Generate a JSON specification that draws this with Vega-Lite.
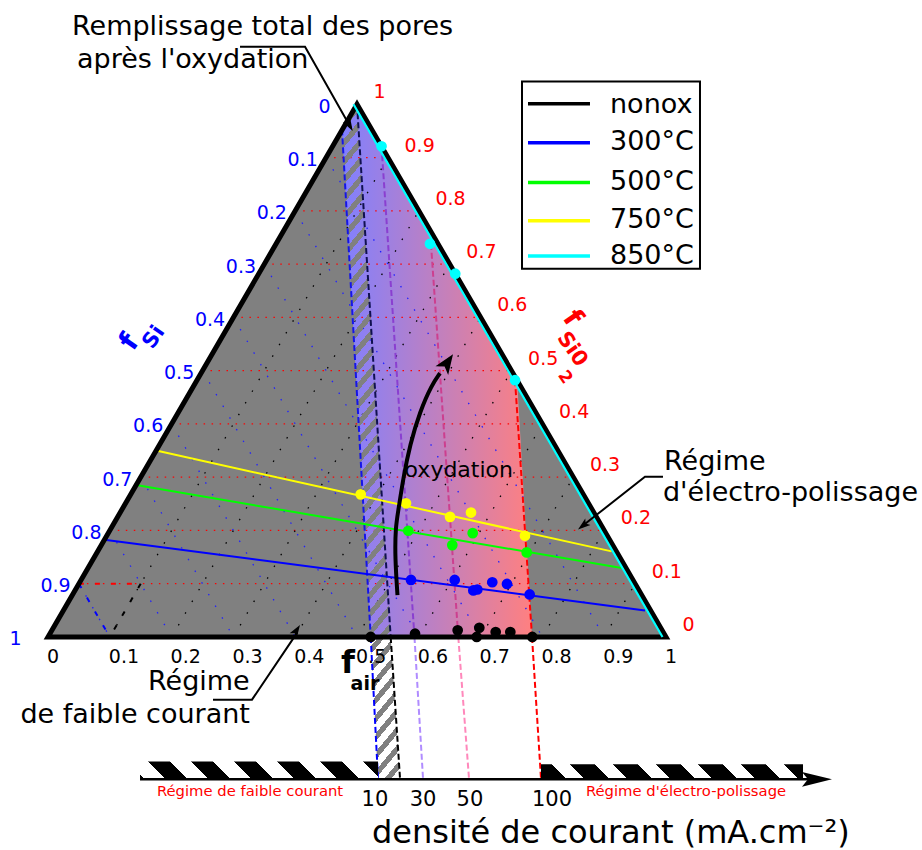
{
"$schema":"https://vega.github.io/schema/vega-lite/v6.json",
"width":922,"height":850,"padding":0,
"autosize":{"type":"fit","contains":"padding"},
"background":"white",
"config":{"view":{"stroke":null},"font":"DejaVu Sans","text":{"font":"DejaVu Sans"}},
"encoding":{
 "x":{"field":"x","type":"quantitative","scale":{"domain":[-0.07767,1.41424],"nice":false,"zero":false},"axis":null},
 "y":{"field":"y","type":"quantitative","scale":{"domain":[-0.33981,1.0356],"nice":false,"zero":false},"axis":null}
},
"resolve":{"scale":{"color":"independent"}},
"layer":[
{"data":{"values":[{"x":0,"y":0,"i":0},{"x":1,"y":0,"i":1},{"x":0.5,"y":0.866,"i":2},{"x":0,"y":0,"i":3}]},
 "mark":{"type":"line","fill":"#808080","strokeWidth":0,"strokeOpacity":0},
 "encoding":{"order":{"field":"i","type":"quantitative"}}},
{"data":{"values":[{"x":0.5,"y":0.866,"i":0},{"x":0.4757,"y":0.8252,"i":1},{"x":0.5222,"y":0,"i":2},{"x":0.7832,"y":0,"i":3},{"x":0.759,"y":0.4175,"i":4},{"x":0.5,"y":0.866,"i":5}]},
 "mark":{"type":"line","fill":{"gradient":"linear","x1":0,"y1":0,"x2":1,"y2":0,"stops":[{"offset":0,"color":"#8080ff"},{"offset":1,"color":"#ff8080"}]},"strokeWidth":0,"strokeOpacity":0},
 "encoding":{"order":{"field":"i","type":"quantitative"}}},
{"data":{"values":[
 {"x":0.05,"y":0.0866,"x2":0.95,"y2":0.0866},{"x":0.1,"y":0.1732,"x2":0.9,"y2":0.1732},{"x":0.15,"y":0.2598,"x2":0.85,"y2":0.2598},
 {"x":0.2,"y":0.3464,"x2":0.8,"y2":0.3464},{"x":0.25,"y":0.433,"x2":0.75,"y2":0.433},{"x":0.3,"y":0.5196,"x2":0.7,"y2":0.5196},
 {"x":0.35,"y":0.6062,"x2":0.65,"y2":0.6062},{"x":0.4,"y":0.6928,"x2":0.6,"y2":0.6928},{"x":0.45,"y":0.7794,"x2":0.55,"y2":0.7794}]},
 "mark":{"type":"rule","color":"#ff0000","strokeWidth":1.3,"strokeDash":[1.5,6.5]},
 "encoding":{"x2":{"field":"x2"},"y2":{"field":"y2"}}},
{"data":{"values":[
 {"x":0.45,"y":0.7794,"x2":0.9,"y2":0},{"x":0.4,"y":0.6928,"x2":0.8,"y2":0},{"x":0.35,"y":0.6062,"x2":0.7,"y2":0},
 {"x":0.3,"y":0.5196,"x2":0.6,"y2":0},{"x":0.25,"y":0.433,"x2":0.5,"y2":0},{"x":0.2,"y":0.3464,"x2":0.4,"y2":0},
 {"x":0.15,"y":0.2598,"x2":0.3,"y2":0},{"x":0.1,"y":0.1732,"x2":0.2,"y2":0},{"x":0.05,"y":0.0866,"x2":0.1,"y2":0}]},
 "mark":{"type":"rule","color":"#2020ff","strokeWidth":1.3,"strokeDash":[1.5,12]},
 "encoding":{"x2":{"field":"x2"},"y2":{"field":"y2"}}},
{"data":{"values":[
 {"x":0.1,"y":0,"x2":0.55,"y2":0.7794},{"x":0.2,"y":0,"x2":0.6,"y2":0.6928},{"x":0.3,"y":0,"x2":0.65,"y2":0.6062},
 {"x":0.4,"y":0,"x2":0.7,"y2":0.5196},{"x":0.5,"y":0,"x2":0.75,"y2":0.433},{"x":0.6,"y":0,"x2":0.8,"y2":0.3464},
 {"x":0.7,"y":0,"x2":0.85,"y2":0.2598},{"x":0.8,"y":0,"x2":0.9,"y2":0.1732},{"x":0.9,"y":0,"x2":0.95,"y2":0.0866}]},
 "mark":{"type":"rule","color":"#000000","strokeWidth":1.3,"strokeDash":[1.5,12]},
 "encoding":{"x2":{"field":"x2"},"y2":{"field":"y2"}}},
{"data":{"values":[
 {"x":0.05,"y":0.0866,"x2":0.15,"y2":0.0866,"c":"r"},{"x":0.05,"y":0.0866,"x2":0.1,"y2":0,"c":"b"},{"x":0.15,"y":0.0866,"x2":0.1,"y2":0,"c":"k"}]},
 "mark":{"type":"rule","strokeWidth":2,"strokeDash":[5,11]},
 "encoding":{"x2":{"field":"x2"},"y2":{"field":"y2"},"color":{"field":"c","type":"nominal","scale":{"domain":["r","b","k"],"range":["#ff0000","#0000ff","#000000"]},"legend":null}}},
{"data":{"values":[{"x":0.4757,"y":0.8252,"i":0},{"x":0.5,"y":0.866,"i":1},{"x":0.5545,"y":0,"i":2},{"x":0.5696,"y":-0.2298,"i":3},{"x":0.534,"y":-0.2298,"i":4},{"x":0.5222,"y":0,"i":5},{"x":0.4757,"y":0.8252,"i":6}]},
 "mark":{"type":"line","strokeWidth":0,"strokeOpacity":0,"fill":{"gradient":"linear","x1":0,"y1":0,"x2":0.1132,"y2":1.092,"stops":[
{"offset":0,"color":"#808080"},{"offset":0.011,"color":"#808080"},{"offset":0.011,"color":"rgba(128,128,128,0)"},
{"offset":0.025,"color":"rgba(128,128,128,0)"},{"offset":0.025,"color":"#808080"},{"offset":0.036,"color":"#808080"},{"offset":0.036,"color":"rgba(128,128,128,0)"},
{"offset":0.05,"color":"rgba(128,128,128,0)"},{"offset":0.05,"color":"#808080"},{"offset":0.061,"color":"#808080"},{"offset":0.061,"color":"rgba(128,128,128,0)"},
{"offset":0.075,"color":"rgba(128,128,128,0)"},{"offset":0.075,"color":"#808080"},{"offset":0.086,"color":"#808080"},{"offset":0.086,"color":"rgba(128,128,128,0)"},
{"offset":0.1,"color":"rgba(128,128,128,0)"},{"offset":0.1,"color":"#808080"},{"offset":0.111,"color":"#808080"},{"offset":0.111,"color":"rgba(128,128,128,0)"},
{"offset":0.125,"color":"rgba(128,128,128,0)"},{"offset":0.125,"color":"#808080"},{"offset":0.136,"color":"#808080"},{"offset":0.136,"color":"rgba(128,128,128,0)"},
{"offset":0.15,"color":"rgba(128,128,128,0)"},{"offset":0.15,"color":"#808080"},{"offset":0.161,"color":"#808080"},{"offset":0.161,"color":"rgba(128,128,128,0)"},
{"offset":0.175,"color":"rgba(128,128,128,0)"},{"offset":0.175,"color":"#808080"},{"offset":0.186,"color":"#808080"},{"offset":0.186,"color":"rgba(128,128,128,0)"},
{"offset":0.2,"color":"rgba(128,128,128,0)"},{"offset":0.2,"color":"#808080"},{"offset":0.211,"color":"#808080"},{"offset":0.211,"color":"rgba(128,128,128,0)"},
{"offset":0.225,"color":"rgba(128,128,128,0)"},{"offset":0.225,"color":"#808080"},{"offset":0.236,"color":"#808080"},{"offset":0.236,"color":"rgba(128,128,128,0)"},
{"offset":0.25,"color":"rgba(128,128,128,0)"},{"offset":0.25,"color":"#808080"},{"offset":0.261,"color":"#808080"},{"offset":0.261,"color":"rgba(128,128,128,0)"},
{"offset":0.275,"color":"rgba(128,128,128,0)"},{"offset":0.275,"color":"#808080"},{"offset":0.286,"color":"#808080"},{"offset":0.286,"color":"rgba(128,128,128,0)"},
{"offset":0.3,"color":"rgba(128,128,128,0)"},{"offset":0.3,"color":"#808080"},{"offset":0.311,"color":"#808080"},{"offset":0.311,"color":"rgba(128,128,128,0)"},
{"offset":0.325,"color":"rgba(128,128,128,0)"},{"offset":0.325,"color":"#808080"},{"offset":0.336,"color":"#808080"},{"offset":0.336,"color":"rgba(128,128,128,0)"},
{"offset":0.35,"color":"rgba(128,128,128,0)"},{"offset":0.35,"color":"#808080"},{"offset":0.361,"color":"#808080"},{"offset":0.361,"color":"rgba(128,128,128,0)"},
{"offset":0.375,"color":"rgba(128,128,128,0)"},{"offset":0.375,"color":"#808080"},{"offset":0.386,"color":"#808080"},{"offset":0.386,"color":"rgba(128,128,128,0)"},
{"offset":0.4,"color":"rgba(128,128,128,0)"},{"offset":0.4,"color":"#808080"},{"offset":0.411,"color":"#808080"},{"offset":0.411,"color":"rgba(128,128,128,0)"},
{"offset":0.425,"color":"rgba(128,128,128,0)"},{"offset":0.425,"color":"#808080"},{"offset":0.436,"color":"#808080"},{"offset":0.436,"color":"rgba(128,128,128,0)"},
{"offset":0.45,"color":"rgba(128,128,128,0)"},{"offset":0.45,"color":"#808080"},{"offset":0.461,"color":"#808080"},{"offset":0.461,"color":"rgba(128,128,128,0)"},
{"offset":0.475,"color":"rgba(128,128,128,0)"},{"offset":0.475,"color":"#808080"},{"offset":0.486,"color":"#808080"},{"offset":0.486,"color":"rgba(128,128,128,0)"},
{"offset":0.5,"color":"rgba(128,128,128,0)"},{"offset":0.5,"color":"#808080"},{"offset":0.511,"color":"#808080"},{"offset":0.511,"color":"rgba(128,128,128,0)"},
{"offset":0.525,"color":"rgba(128,128,128,0)"},{"offset":0.525,"color":"#808080"},{"offset":0.536,"color":"#808080"},{"offset":0.536,"color":"rgba(128,128,128,0)"},
{"offset":0.55,"color":"rgba(128,128,128,0)"},{"offset":0.55,"color":"#808080"},{"offset":0.561,"color":"#808080"},{"offset":0.561,"color":"rgba(128,128,128,0)"},
{"offset":0.575,"color":"rgba(128,128,128,0)"},{"offset":0.575,"color":"#808080"},{"offset":0.586,"color":"#808080"},{"offset":0.586,"color":"rgba(128,128,128,0)"},
{"offset":0.6,"color":"rgba(128,128,128,0)"},{"offset":0.6,"color":"#808080"},{"offset":0.611,"color":"#808080"},{"offset":0.611,"color":"rgba(128,128,128,0)"},
{"offset":0.625,"color":"rgba(128,128,128,0)"},{"offset":0.625,"color":"#808080"},{"offset":0.636,"color":"#808080"},{"offset":0.636,"color":"rgba(128,128,128,0)"},
{"offset":0.65,"color":"rgba(128,128,128,0)"},{"offset":0.65,"color":"#808080"},{"offset":0.661,"color":"#808080"},{"offset":0.661,"color":"rgba(128,128,128,0)"},
{"offset":0.675,"color":"rgba(128,128,128,0)"},{"offset":0.675,"color":"#808080"},{"offset":0.686,"color":"#808080"},{"offset":0.686,"color":"rgba(128,128,128,0)"},
{"offset":0.7,"color":"rgba(128,128,128,0)"},{"offset":0.7,"color":"#808080"},{"offset":0.711,"color":"#808080"},{"offset":0.711,"color":"rgba(128,128,128,0)"},
{"offset":0.725,"color":"rgba(128,128,128,0)"},{"offset":0.725,"color":"#808080"},{"offset":0.736,"color":"#808080"},{"offset":0.736,"color":"rgba(128,128,128,0)"},
{"offset":0.75,"color":"rgba(128,128,128,0)"},{"offset":0.75,"color":"#808080"},{"offset":0.761,"color":"#808080"},{"offset":0.761,"color":"rgba(128,128,128,0)"},
{"offset":0.775,"color":"rgba(128,128,128,0)"},{"offset":0.775,"color":"#808080"},{"offset":0.786,"color":"#808080"},{"offset":0.786,"color":"rgba(128,128,128,0)"},
{"offset":0.8,"color":"rgba(128,128,128,0)"},{"offset":0.8,"color":"#808080"},{"offset":0.811,"color":"#808080"},{"offset":0.811,"color":"rgba(128,128,128,0)"},
{"offset":0.825,"color":"rgba(128,128,128,0)"},{"offset":0.825,"color":"#808080"},{"offset":0.836,"color":"#808080"},{"offset":0.836,"color":"rgba(128,128,128,0)"},
{"offset":0.85,"color":"rgba(128,128,128,0)"},{"offset":0.85,"color":"#808080"},{"offset":0.861,"color":"#808080"},{"offset":0.861,"color":"rgba(128,128,128,0)"},
{"offset":0.875,"color":"rgba(128,128,128,0)"},{"offset":0.875,"color":"#808080"},{"offset":0.886,"color":"#808080"},{"offset":0.886,"color":"rgba(128,128,128,0)"},
{"offset":0.9,"color":"rgba(128,128,128,0)"},{"offset":0.9,"color":"#808080"},{"offset":0.911,"color":"#808080"},{"offset":0.911,"color":"rgba(128,128,128,0)"},
{"offset":0.925,"color":"rgba(128,128,128,0)"},{"offset":0.925,"color":"#808080"},{"offset":0.936,"color":"#808080"},{"offset":0.936,"color":"rgba(128,128,128,0)"},
{"offset":0.95,"color":"rgba(128,128,128,0)"},{"offset":0.95,"color":"#808080"},{"offset":0.961,"color":"#808080"},{"offset":0.961,"color":"rgba(128,128,128,0)"},
{"offset":0.975,"color":"rgba(128,128,128,0)"},{"offset":0.975,"color":"#808080"},{"offset":0.986,"color":"#808080"},{"offset":0.986,"color":"rgba(128,128,128,0)"},
{"offset":1,"color":"rgba(128,128,128,0)"}]}},
 "encoding":{"order":{"field":"i","type":"quantitative"}}},
{"data":{"values":[
 {"x":0.4757,"y":0.8252,"x2":0.5222,"y2":0,"c":"L1in"},{"x":0.5222,"y":0,"x2":0.534,"y2":-0.2298,"c":"L1out"},
 {"x":0.5,"y":0.866,"x2":0.5545,"y2":0,"c":"L2in"},{"x":0.5545,"y":0,"x2":0.5696,"y2":-0.2298,"c":"L2out"},
 {"x":0.5397,"y":0.7977,"x2":0.593,"y2":0,"c":"Pin"},{"x":0.593,"y":0,"x2":0.6068,"y2":-0.2298,"c":"Pout"},
 {"x":0.6197,"y":0.6392,"x2":0.6639,"y2":0,"c":"Kin"},{"x":0.6639,"y":0,"x2":0.6812,"y2":-0.2298,"c":"Kout"},
 {"x":0.7557,"y":0.4175,"x2":0.7832,"y2":0,"c":"Rin"},{"x":0.7832,"y":0,"x2":0.7977,"y2":-0.2298,"c":"Rout"}]},
 "mark":{"type":"rule","strokeWidth":2,"strokeDash":[6,3]},
 "encoding":{"x2":{"field":"x2"},"y2":{"field":"y2"},"color":{"field":"c","type":"nominal","scale":{"domain":["L1in","L1out","L2in","L2out","Pin","Pout","Kin","Kout","Rin","Rout"],"range":["#1515e8","#0000ff","#101050","#000000","#8a3fd0","#b08cff","#cc3f8f","#ff88bb","#ff0000","#ff0000"]},"legend":null}}},
{"data":{"values":[
 {"x":0,"y":0,"x2":1,"y2":0,"s":"nonox"},
 {"x":0.0913,"y":0.1581,"x2":0.966,"y2":0.0432,"s":"300°C"},
 {"x":0.1427,"y":0.2471,"x2":0.9283,"y2":0.1121,"s":"500°C"},
 {"x":0.175,"y":0.3031,"x2":0.9121,"y2":0.1392,"s":"750°C"}]},
 "mark":{"type":"rule","strokeWidth":2},
 "encoding":{"x2":{"field":"x2"},"y2":{"field":"y2"},"color":{"field":"s","type":"nominal","scale":{"domain":["nonox","300°C","500°C","750°C","850°C"],"range":["#000000","#0000ff","#00ff00","#ffff00","#00ffff"]},"legend":null}}},
{"data":{"values":[{"x":0,"y":0,"i":0},{"x":1,"y":0,"i":1},{"x":0.5,"y":0.866,"i":2},{"x":0,"y":0,"i":3},{"x":1,"y":0,"i":4}]},
 "mark":{"type":"line","color":"#000000","strokeWidth":5,"strokeJoin":"miter"},
 "encoding":{"order":{"field":"i","type":"quantitative"}}},
{"data":{"values":[{"x":0.5,"y":0.866,"i":0},{"x":1,"y":0,"i":1}]},
 "mark":{"type":"line","color":"#00ffff","strokeWidth":2.2,"xOffset":-3.5},
 "encoding":{"order":{"field":"i","type":"quantitative"}}},
{"data":{"values":[
 {"x":0.5222,"y":0,"s":"nonox"},{"x":0.5939,"y":0.0053,"s":"nonox"},{"x":0.6629,"y":0.0108,"s":"nonox"},{"x":0.6937,"y":0,"s":"nonox"},
 {"x":0.6979,"y":0.015,"s":"nonox"},{"x":0.7244,"y":0.0081,"s":"nonox"},{"x":0.7481,"y":0.0081,"s":"nonox"},{"x":0.7837,"y":0,"s":"nonox"},
 {"x":0.5874,"y":0.0927,"s":"300°C"},{"x":0.6581,"y":0.0927,"s":"300°C"},{"x":0.6882,"y":0.0756,"s":"300°C"},{"x":0.6947,"y":0.0772,"s":"300°C"},
 {"x":0.7189,"y":0.089,"s":"300°C"},{"x":0.7427,"y":0.0862,"s":"300°C"},{"x":0.7794,"y":0.0691,"s":"300°C"},
 {"x":0.583,"y":0.1727,"s":"500°C"},{"x":0.6542,"y":0.1494,"s":"500°C"},{"x":0.6872,"y":0.1688,"s":"500°C"},{"x":0.7746,"y":0.1375,"s":"500°C"},
 {"x":0.506,"y":0.2319,"s":"750°C"},{"x":0.5793,"y":0.2173,"s":"750°C"},{"x":0.6505,"y":0.1953,"s":"750°C"},{"x":0.6845,"y":0.2023,"s":"750°C"},{"x":0.7718,"y":0.1646,"s":"750°C"},
 {"x":0.5397,"y":0.7977,"s":"850°C"},{"x":0.6181,"y":0.6392,"s":"850°C"},{"x":0.659,"y":0.5906,"s":"850°C"},{"x":0.7557,"y":0.4175,"s":"850°C"}]},
 "mark":{"type":"point","filled":true,"opacity":1,"size":115},
 "encoding":{"color":{"field":"s","type":"nominal","scale":{"domain":["nonox","300°C","500°C","750°C","850°C"],"range":["#000000","#0000ff","#00ff00","#ffff00","#00ffff"]},"legend":null}}},
{"data":{"values":[{"x":0.767,"x2":1.055,"y":0.9029,"y2":0.5987}]},
 "mark":{"type":"rect","fill":"#ffffff","stroke":"#000000","strokeWidth":2},
 "encoding":{"x2":{"field":"x2"},"y2":{"field":"y2"}}},
{"data":{"values":[
 {"x":0.7767,"x2":0.877,"y":0.8668,"s":"nonox"},{"x":0.7767,"x2":0.877,"y":0.8037,"s":"300°C"},{"x":0.7767,"x2":0.877,"y":0.739,"s":"500°C"},
 {"x":0.7767,"x2":0.877,"y":0.6769,"s":"750°C"},{"x":0.7767,"x2":0.877,"y":0.6192,"s":"850°C"}]},
 "mark":{"type":"rule","strokeWidth":3.5},
 "encoding":{"x2":{"field":"x2"},"color":{"field":"s","type":"nominal","scale":{"domain":["nonox","300°C","500°C","750°C","850°C"],"range":["#000000","#0000ff","#00ff00","#ffff00","#00ffff"]},"legend":null}}},
{"data":{"values":[
 {"x":0.0388,"y":0.9919,"t":"Remplissage total des pores"},
 {"x":0.0469,"y":0.9382,"t":"après l'oxydation"},
 {"x":0.1618,"y":-0.0735,"t":"Régime"},
 {"x":-0.0447,"y":-0.1272,"t":"de faible courant"},
 {"x":0.9968,"y":0.2838,"t":"Régime"},
 {"x":0.9951,"y":0.2343,"t":"d'électro-polissage"},
 {"x":0.9094,"y":0.8654,"t":"nonox"},{"x":0.9094,"y":0.8044,"t":"300°C"},{"x":0.9094,"y":0.7397,"t":"500°C"},
 {"x":0.9094,"y":0.6777,"t":"750°C"},{"x":0.9094,"y":0.6199,"t":"850°C"}]},
 "mark":{"type":"text","align":"left","baseline":"middle","fontSize":27,"color":"#000000"},
 "encoding":{"text":{"field":"t"}}},
{"data":{"values":[{"x":0.6647,"y":0.2707,"t":"oxydation"}]},
 "mark":{"type":"text","align":"center","baseline":"middle","fontSize":22,"color":"#000000"},
 "encoding":{"text":{"field":"t"}}},
{"data":{"values":[
 {"x":0.5,"y":0.866,"t":"0"},{"x":0.45,"y":0.7794,"t":"0.1"},{"x":0.4,"y":0.6928,"t":"0.2"},{"x":0.35,"y":0.6062,"t":"0.3"},
 {"x":0.3,"y":0.5196,"t":"0.4"},{"x":0.25,"y":0.433,"t":"0.5"},{"x":0.2,"y":0.3464,"t":"0.6"},{"x":0.15,"y":0.2598,"t":"0.7"},
 {"x":0.1,"y":0.1732,"t":"0.8"},{"x":0.05,"y":0.0866,"t":"0.9"},{"x":0,"y":0,"t":"1"}]},
 "mark":{"type":"text","align":"left","baseline":"middle","fontSize":19,"color":"#0000ff","dx":-38.5,"dy":2.5},
 "encoding":{"text":{"field":"t"}}},
{"data":{"values":[
 {"x":0.5,"y":0.866,"t":"1"},{"x":0.55,"y":0.7794,"t":"0.9"},{"x":0.6,"y":0.6928,"t":"0.8"},{"x":0.65,"y":0.6062,"t":"0.7"},
 {"x":0.7,"y":0.5196,"t":"0.6"},{"x":0.75,"y":0.433,"t":"0.5"},{"x":0.8,"y":0.3464,"t":"0.4"},{"x":0.85,"y":0.2598,"t":"0.3"},
 {"x":0.9,"y":0.1732,"t":"0.2"},{"x":0.95,"y":0.0866,"t":"0.1"},{"x":1,"y":0,"t":"0"}]},
 "mark":{"type":"text","align":"left","baseline":"middle","fontSize":19,"color":"#ff0000","dx":16.6,"dy":-12},
 "encoding":{"text":{"field":"t"}}},
{"data":{"values":[
 {"x":0,"y":0,"t":"0"},{"x":0.1,"y":0,"t":"0.1"},{"x":0.2,"y":0,"t":"0.2"},{"x":0.3,"y":0,"t":"0.3"},{"x":0.4,"y":0,"t":"0.4"},
 {"x":0.5,"y":0,"t":"0.5"},{"x":0.6,"y":0,"t":"0.6"},{"x":0.7,"y":0,"t":"0.7"},{"x":0.8,"y":0,"t":"0.8"},{"x":0.9,"y":0,"t":"0.9"},{"x":1,"y":0,"t":"1"}]},
 "mark":{"type":"text","align":"left","baseline":"middle","fontSize":19,"color":"#000000","dx":-1,"dy":20},
 "encoding":{"text":{"field":"t"}}},
{"data":{"values":[{"x":0.4854,"y":-0.0421,"t":"f"}]},
 "mark":{"type":"text","align":"center","baseline":"middle","fontSize":32,"fontWeight":"bold","color":"#000000"},
 "encoding":{"text":{"field":"t"}}},
{"data":{"values":[{"x":0.5129,"y":-0.0761,"t":"air"}]},
 "mark":{"type":"text","align":"center","baseline":"middle","fontSize":19,"fontWeight":"bold","color":"#000000"},
 "encoding":{"text":{"field":"t"}}},
{"data":{"values":[{"x":0.1327,"y":0.479,"t":"f"}]},
 "mark":{"type":"text","align":"center","baseline":"middle","fontSize":28,"fontWeight":"bold","color":"#0000ff","angle":-55},
 "encoding":{"text":{"field":"t"}}},
{"data":{"values":[{"x":0.1715,"y":0.4871,"t":"Si"}]},
 "mark":{"type":"text","align":"center","baseline":"middle","fontSize":21,"fontWeight":"bold","color":"#0000ff","angle":-55},
 "encoding":{"text":{"field":"t"}}},
{"data":{"values":[{"x":0.8479,"y":0.5178,"t":"f"}]},
 "mark":{"type":"text","align":"center","baseline":"middle","fontSize":28,"fontWeight":"bold","color":"#ff0000","angle":55},
 "encoding":{"text":{"field":"t"}}},
{"data":{"values":[{"x":0.8479,"y":0.4676,"t":"Si0"}]},
 "mark":{"type":"text","align":"center","baseline":"middle","fontSize":21,"fontWeight":"bold","color":"#ff0000","angle":55},
 "encoding":{"text":{"field":"t"}}},
{"data":{"values":[{"x":0.8366,"y":0.4223,"t":"2"}]},
 "mark":{"type":"text","align":"center","baseline":"middle","fontSize":17,"fontWeight":"bold","color":"#ff0000","angle":55},
 "encoding":{"text":{"field":"t"}}},
{"data":{"values":[
 {"x":0.3107,"y":0.9595,"i":0,"a":"top"},{"x":0.4159,"y":0.9595,"i":1,"a":"top"},{"x":0.4898,"y":0.8282,"i":2,"a":"top"},
 {"x":0.267,"y":-0.1019,"i":0,"a":"left"},{"x":0.3301,"y":-0.1019,"i":1,"a":"left"},{"x":0.4035,"y":0.0075,"i":2,"a":"left"},
 {"x":0.9951,"y":0.2605,"i":0,"a":"right"},{"x":0.966,"y":0.2605,"i":1,"a":"right"},{"x":0.8635,"y":0.1795,"i":2,"a":"right"}]},
 "mark":{"type":"line","color":"#000000","strokeWidth":2},
 "encoding":{"detail":{"field":"a"},"order":{"field":"i","type":"quantitative"}}},
{"data":{"values":[{"x":0.4875,"y":0.8324}]},
 "mark":{"type":"point","filled":true,"opacity":1,"color":"#000000","size":196,"shape":"M0,-1L0.6,0.8L0,0.4L-0.6,0.8Z","angle":150.6}},
{"data":{"values":[{"x":0.4016,"y":0.0099}]},
 "mark":{"type":"point","filled":true,"opacity":1,"color":"#000000","size":196,"shape":"M0,-1L0.6,0.8L0,0.4L-0.6,0.8Z","angle":32.6}},
{"data":{"values":[{"x":0.8665,"y":0.1817}]},
 "mark":{"type":"point","filled":true,"opacity":1,"color":"#000000","size":196,"shape":"M0,-1L0.6,0.8L0,0.4L-0.6,0.8Z","angle":-128.4}},
{"data":{"values":[
 {"x":0.5655,"y":0.068,"i":0},{"x":0.5615,"y":0.1294,"i":1},{"x":0.5623,"y":0.178,"i":2},{"x":0.5668,"y":0.205,"i":3},
 {"x":0.5749,"y":0.2589,"i":4},{"x":0.5858,"y":0.3128,"i":5},{"x":0.6019,"y":0.3668,"i":6},{"x":0.6209,"y":0.4099,"i":7},{"x":0.6343,"y":0.4288,"i":8}]},
 "mark":{"type":"line","color":"#000000","strokeWidth":4,"interpolate":"basis"},
 "encoding":{"order":{"field":"i","type":"quantitative"}}},
{"data":{"values":[{"x":0.6453,"y":0.4448}]},
 "mark":{"type":"point","filled":true,"opacity":1,"color":"#000000","size":484,"shape":"M0,-1L0.7,0.8L0,0.35L-0.7,0.8Z","angle":34.4}},
{"data":{"values":[{"x":0.1489,"x2":0.534,"y":-0.2023,"y2":-0.2298}]},
 "mark":{"type":"rect","fill":{"gradient":"linear","x1":0,"y1":1,"x2":1.066,"y2":0.9239,"stops":[
 {"offset":0,"color":"#000000"},{"offset":0.0157,"color":"#000000"},{"offset":0.0157,"color":"#ffffff"},{"offset":0.0992,"color":"#ffffff"},
 {"offset":0.0992,"color":"#000000"},{"offset":0.1843,"color":"#000000"},{"offset":0.1843,"color":"#ffffff"},{"offset":0.2678,"color":"#ffffff"},
 {"offset":0.2678,"color":"#000000"},{"offset":0.3529,"color":"#000000"},{"offset":0.3529,"color":"#ffffff"},{"offset":0.4364,"color":"#ffffff"},
 {"offset":0.4364,"color":"#000000"},{"offset":0.5215,"color":"#000000"},{"offset":0.5215,"color":"#ffffff"},{"offset":0.605,"color":"#ffffff"},
 {"offset":0.605,"color":"#000000"},{"offset":0.6901,"color":"#000000"},{"offset":0.6901,"color":"#ffffff"},{"offset":0.7736,"color":"#ffffff"},
 {"offset":0.7736,"color":"#000000"},{"offset":0.8587,"color":"#000000"},{"offset":0.8587,"color":"#ffffff"},{"offset":0.9422,"color":"#ffffff"},
 {"offset":0.9422,"color":"#000000"},{"offset":1,"color":"#000000"}]}},
 "encoding":{"x2":{"field":"x2"},"y2":{"field":"y2"}}},
{"data":{"values":[{"x":0.7977,"x2":1.2217,"y":-0.2071,"y2":-0.2298}]},
 "mark":{"type":"rect","fill":{"gradient":"linear","x1":0,"y1":1,"x2":1.0504,"y2":0.9439,"stops":[
 {"offset":0,"color":"#000000"},{"offset":0.0917,"color":"#000000"},{"offset":0.0917,"color":"#ffffff"},{"offset":0.1558,"color":"#ffffff"},
 {"offset":0.1558,"color":"#000000"},{"offset":0.2464,"color":"#000000"},{"offset":0.2464,"color":"#ffffff"},{"offset":0.3105,"color":"#ffffff"},
 {"offset":0.3105,"color":"#000000"},{"offset":0.4011,"color":"#000000"},{"offset":0.4011,"color":"#ffffff"},{"offset":0.4652,"color":"#ffffff"},
 {"offset":0.4652,"color":"#000000"},{"offset":0.5558,"color":"#000000"},{"offset":0.5558,"color":"#ffffff"},{"offset":0.6199,"color":"#ffffff"},
 {"offset":0.6199,"color":"#000000"},{"offset":0.7105,"color":"#000000"},{"offset":0.7105,"color":"#ffffff"},{"offset":0.7746,"color":"#ffffff"},
 {"offset":0.7746,"color":"#000000"},{"offset":0.8652,"color":"#000000"},{"offset":0.8652,"color":"#ffffff"},{"offset":0.9293,"color":"#ffffff"},
 {"offset":0.9293,"color":"#000000"},{"offset":1,"color":"#000000"}]}},
 "encoding":{"x2":{"field":"x2"},"y2":{"field":"y2"}}},
{"data":{"values":[{"x":0.1489,"x2":1.2411,"y":-0.2314}]},
 "mark":{"type":"rule","color":"#000000","strokeWidth":2.5},
 "encoding":{"x2":{"field":"x2"}}},
{"data":{"values":[{"x":1.2443,"y":-0.2314}]},
 "mark":{"type":"point","filled":true,"opacity":1,"color":"#000000","size":900,"shape":"M-1,-0.49L1,0L-1,0.49L-0.6,0Z"}},
{"data":{"values":[{"x":0.5291,"y":-0.2655,"t":"10"},{"x":0.6068,"y":-0.2655,"t":"30"},{"x":0.6828,"y":-0.2655,"t":"50"},{"x":0.8155,"y":-0.2655,"t":"100"}]},
 "mark":{"type":"text","align":"center","baseline":"middle","fontSize":21,"color":"#000000"},
 "encoding":{"text":{"field":"t"}}},
{"data":{"values":[{"x":0.3269,"y":-0.2526,"t":"Régime de faible courant"},{"x":1.0324,"y":-0.2526,"t":"Régime d'électro-polissage"}]},
 "mark":{"type":"text","align":"center","baseline":"middle","fontSize":14.8,"color":"#ff0000"},
 "encoding":{"text":{"field":"t"}}},
{"data":{"values":[{"x":0.5243,"y":-0.3194,"t":"densité de courant (mA.cm⁻²)"}]},
 "mark":{"type":"text","align":"left","baseline":"middle","fontSize":32,"color":"#000000"},
 "encoding":{"text":{"field":"t"}}}
]
}
